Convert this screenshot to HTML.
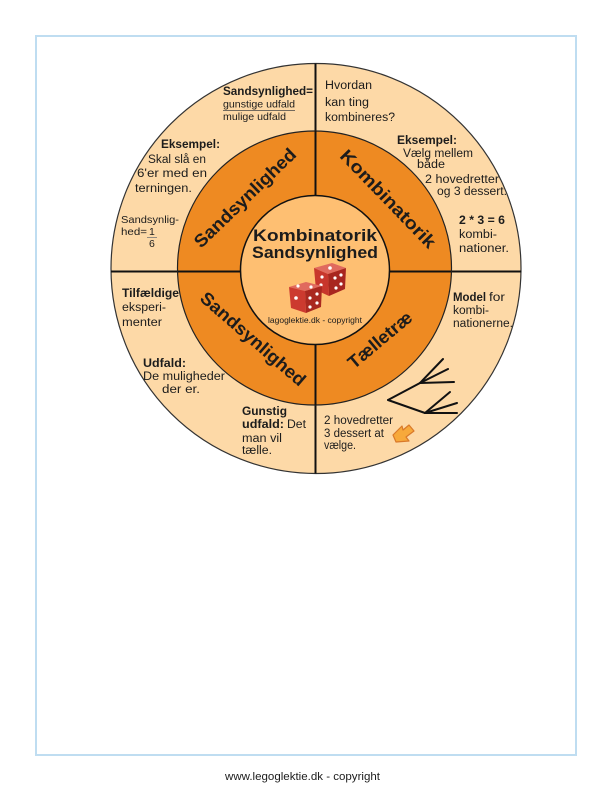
<!DOCTYPE html>
<html>
<head>
<meta charset="utf-8">
<style>
html,body{margin:0;padding:0;background:#fff;}
svg{display:block;}
text{font-family:"Liberation Sans",sans-serif;fill:#1c1c1c;}
.b{font-weight:bold;}
</style>
</head>
<body>
<svg width="612" height="792" viewBox="0 0 612 792" xmlns="http://www.w3.org/2000/svg">
  <!-- page border -->
  <rect x="36" y="36" width="540" height="719" fill="#fff" stroke="#bfddf1" stroke-width="2"/>

  <!-- outer ring -->
  <circle cx="316" cy="268.5" r="205" fill="#fdd9a7" stroke="#333" stroke-width="1.2"/>
  <!-- dividing lines -->
  <line x1="111" y1="271.5" x2="521.5" y2="271.5" stroke="#111" stroke-width="2"/>
  <line x1="315.5" y1="63.5" x2="315.5" y2="473.5" stroke="#111" stroke-width="2"/>
  <!-- orange ring -->
  <circle cx="314.5" cy="268" r="137" fill="#ee8a22" stroke="#222" stroke-width="1.2"/>
  <line x1="178" y1="271.5" x2="451" y2="271.5" stroke="#111" stroke-width="2"/>
  <line x1="315.5" y1="131" x2="315.5" y2="405" stroke="#111" stroke-width="2"/>
  <!-- inner circle -->
  <circle cx="315" cy="270" r="74.5" fill="#febf72" stroke="#111" stroke-width="1.5"/>

  <!-- ring labels -->
  <text class="b" font-size="18" x="245" y="198" text-anchor="middle" dominant-baseline="central" textLength="134" lengthAdjust="spacingAndGlyphs" transform="rotate(-44 245 198)">Sandsynlighed</text>
  <text class="b" font-size="18" x="388" y="199" text-anchor="middle" dominant-baseline="central" textLength="129" lengthAdjust="spacingAndGlyphs" transform="rotate(46 388 199)">Kombinatorik</text>
  <text class="b" font-size="18" x="253" y="339" text-anchor="middle" dominant-baseline="central" textLength="133" lengthAdjust="spacingAndGlyphs" transform="rotate(41 253 339)">Sandsynlighed</text>
  <text class="b" font-size="18" x="380" y="340" text-anchor="middle" dominant-baseline="central" textLength="78" lengthAdjust="spacingAndGlyphs" transform="rotate(-40 380 340)">Tælletræ</text>

  <!-- center title -->
  <text class="b" font-size="17" x="315" y="241" text-anchor="middle" textLength="124" lengthAdjust="spacingAndGlyphs">Kombinatorik</text>
  <text class="b" font-size="17" x="315" y="258" text-anchor="middle" textLength="126" lengthAdjust="spacingAndGlyphs">Sandsynlighed</text>

  <!-- dice back -->
  <g>
    <polygon points="314,268 332,263 346,268 328,274" fill="#e06a5e"/>
    <polygon points="314,268 328,274 329,296 316,290" fill="#c8362c"/>
    <polygon points="328,274 346,268 345,289 329,296" fill="#a8261f"/>
    <circle cx="330" cy="268" r="1.8" fill="#fff"/>
    <circle cx="322" cy="277" r="1.6" fill="#fff"/>
    <circle cx="321" cy="285" r="1.6" fill="#fff"/>
    <circle cx="335" cy="278" r="1.6" fill="#fff"/>
    <circle cx="341" cy="275" r="1.6" fill="#fff"/>
    <circle cx="336" cy="288" r="1.6" fill="#fff"/>
    <circle cx="341" cy="284" r="1.6" fill="#fff"/>
  </g>
  <!-- dice front -->
  <g>
    <polygon points="289,287 306,282 322,286 305,291" fill="#e06a5e"/>
    <polygon points="289,287 305,291 306,313 291,308" fill="#cc3a2f"/>
    <polygon points="305,291 322,286 321,307 306,313" fill="#aa2820"/>
    <circle cx="298" cy="286" r="1.6" fill="#fff"/>
    <circle cx="311" cy="287" r="1.6" fill="#fff"/>
    <circle cx="296" cy="298" r="1.8" fill="#fff"/>
    <circle cx="310" cy="298" r="1.6" fill="#fff"/>
    <circle cx="317" cy="294" r="1.6" fill="#fff"/>
    <circle cx="310" cy="307" r="1.6" fill="#fff"/>
    <circle cx="317" cy="303" r="1.6" fill="#fff"/>
  </g>
  <text font-size="8" x="315" y="323" text-anchor="middle" textLength="94" lengthAdjust="spacingAndGlyphs">lagoglektie.dk - copyright</text>

  <!-- top-left quadrant -->
  <text class="b" font-size="11.5" x="223" y="95" textLength="90" lengthAdjust="spacingAndGlyphs">Sandsynlighed=</text>
  <text font-size="10.5" x="223" y="107.5" textLength="72" lengthAdjust="spacingAndGlyphs">gunstige udfald</text>
  <line x1="223" y1="110.5" x2="295" y2="110.5" stroke="#444" stroke-width="0.8"/>
  <text font-size="10.5" x="223" y="120" textLength="63" lengthAdjust="spacingAndGlyphs">mulige udfald</text>

  <text class="b" font-size="11.5" x="161" y="148" textLength="59" lengthAdjust="spacingAndGlyphs">Eksempel:</text>
  <text font-size="11.5" x="148" y="163" textLength="58" lengthAdjust="spacingAndGlyphs">Skal slå en</text>
  <text font-size="11.5" x="137" y="177" textLength="70" lengthAdjust="spacingAndGlyphs">6'er med en</text>
  <text font-size="11.5" x="135" y="192" textLength="57" lengthAdjust="spacingAndGlyphs">terningen.</text>

  <text font-size="10.5" x="121" y="223" textLength="58" lengthAdjust="spacingAndGlyphs">Sandsynlig-</text>
  <text font-size="10.5" x="121" y="235" textLength="26" lengthAdjust="spacingAndGlyphs">hed=</text>
  <text font-size="10.5" x="149" y="235">1</text>
  <line x1="147" y1="237.5" x2="157" y2="237.5" stroke="#777" stroke-width="0.8"/>
  <text font-size="10.5" x="149" y="247">6</text>

  <!-- top-right quadrant -->
  <text font-size="11.5" x="325" y="89" textLength="47" lengthAdjust="spacingAndGlyphs">Hvordan</text>
  <text font-size="11.5" x="325" y="106" textLength="44" lengthAdjust="spacingAndGlyphs">kan ting</text>
  <text font-size="11.5" x="325" y="121" textLength="70" lengthAdjust="spacingAndGlyphs">kombineres?</text>

  <text class="b" font-size="11.5" x="397" y="144" textLength="60" lengthAdjust="spacingAndGlyphs">Eksempel:</text>
  <text font-size="11.5" x="403" y="157" textLength="70" lengthAdjust="spacingAndGlyphs">Vælg mellem</text>
  <text font-size="11.5" x="417" y="168" textLength="28" lengthAdjust="spacingAndGlyphs">både</text>
  <text font-size="11.5" x="425" y="183" textLength="74" lengthAdjust="spacingAndGlyphs">2 hovedretter</text>
  <text font-size="11.5" x="437" y="195" textLength="70" lengthAdjust="spacingAndGlyphs">og 3 dessert.</text>

  <text class="b" font-size="11.5" x="459" y="224" textLength="46" lengthAdjust="spacingAndGlyphs">2 * 3 = 6</text>
  <text font-size="11.5" x="459" y="238" textLength="38" lengthAdjust="spacingAndGlyphs">kombi-</text>
  <text font-size="11.5" x="459" y="252" textLength="50" lengthAdjust="spacingAndGlyphs">nationer.</text>

  <!-- bottom-left quadrant -->
  <text class="b" font-size="11.5" x="122" y="297" textLength="57" lengthAdjust="spacingAndGlyphs">Tilfældige</text>
  <text font-size="11.5" x="122" y="311" textLength="44" lengthAdjust="spacingAndGlyphs">eksperi-</text>
  <text font-size="11.5" x="122" y="326" textLength="40" lengthAdjust="spacingAndGlyphs">menter</text>

  <text class="b" font-size="11.5" x="143" y="367" textLength="43" lengthAdjust="spacingAndGlyphs">Udfald:</text>
  <text font-size="11.5" x="143" y="380" textLength="82" lengthAdjust="spacingAndGlyphs">De muligheder</text>
  <text font-size="11.5" x="162" y="393" textLength="38" lengthAdjust="spacingAndGlyphs">der er.</text>

  <text class="b" font-size="11.5" x="242" y="415" textLength="45" lengthAdjust="spacingAndGlyphs">Gunstig</text>
  <text class="b" font-size="11.5" x="242" y="428" textLength="42" lengthAdjust="spacingAndGlyphs">udfald:</text>
  <text font-size="11.5" x="287" y="428" textLength="19" lengthAdjust="spacingAndGlyphs">Det</text>
  <text font-size="11.5" x="242" y="442" textLength="40" lengthAdjust="spacingAndGlyphs">man vil</text>
  <text font-size="11.5" x="242" y="454" textLength="30" lengthAdjust="spacingAndGlyphs">tælle.</text>

  <!-- bottom-right quadrant -->
  <text class="b" font-size="11.5" x="453" y="301" textLength="33" lengthAdjust="spacingAndGlyphs">Model</text>
  <text font-size="11.5" x="489" y="301" textLength="16" lengthAdjust="spacingAndGlyphs">for</text>
  <text font-size="11.5" x="453" y="314" textLength="36" lengthAdjust="spacingAndGlyphs">kombi-</text>
  <text font-size="11.5" x="453" y="327" textLength="60" lengthAdjust="spacingAndGlyphs">nationerne.</text>

  <!-- tree -->
  <g stroke="#111" stroke-width="2" fill="none" stroke-linecap="round">
    <line x1="388" y1="400" x2="420" y2="383"/>
    <line x1="388" y1="400" x2="425" y2="413"/>
    <line x1="420" y1="383" x2="443" y2="359"/>
    <line x1="420" y1="383" x2="448" y2="369"/>
    <line x1="420" y1="383" x2="454" y2="382"/>
    <line x1="425" y1="413" x2="450" y2="392"/>
    <line x1="425" y1="413" x2="457" y2="403"/>
    <line x1="425" y1="413" x2="457" y2="413"/>
  </g>

  <text font-size="11.5" x="324" y="424" textLength="69" lengthAdjust="spacingAndGlyphs">2 hovedretter</text>
  <text font-size="11.5" x="324" y="437" textLength="60" lengthAdjust="spacingAndGlyphs">3 dessert at</text>
  <text font-size="11.5" x="324" y="449" textLength="32" lengthAdjust="spacingAndGlyphs">vælge.</text>

  <!-- arrow icon -->
  <polygon points="393,435 402,426 403,430 409,425 414,431 406,437 409,441 396,442" fill="#f7a93b" stroke="#d9792a" stroke-width="1.2" stroke-linejoin="round"/>

  <!-- footer -->
  <text font-size="11" x="225" y="780" textLength="155" lengthAdjust="spacingAndGlyphs" fill="#222">www.legoglektie.dk - copyright</text>
</svg>
</body>
</html>
